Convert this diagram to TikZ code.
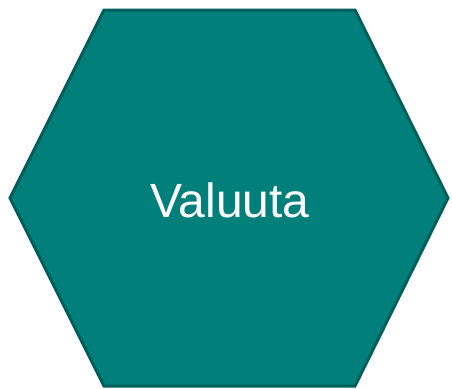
\documentclass[tikz,border=0pt]{standalone}
\usepackage{fontspec}
\setmainfont{Liberation Sans}
\usetikzlibrary{positioning}
\definecolor{HexFill}{HTML}{007F7B}
\definecolor{HexEdge}{HTML}{005F5C}

\begin{document}
\begin{tikzpicture}[x=1pt,y=-1pt]
\useasboundingbox (0,0) rectangle (452,388);
\fill[HexFill,draw=HexEdge,line width=3pt,line join=miter] (104,10) -- (355,10) -- (448,198) -- (355,386) -- (104,386) -- (10,198) -- cycle;
\node[white,font=\fontsize{48}{58}\selectfont,inner sep=0pt] (valuuta) at (230,200) {Valuuta};
\end{tikzpicture}
\end{document}
